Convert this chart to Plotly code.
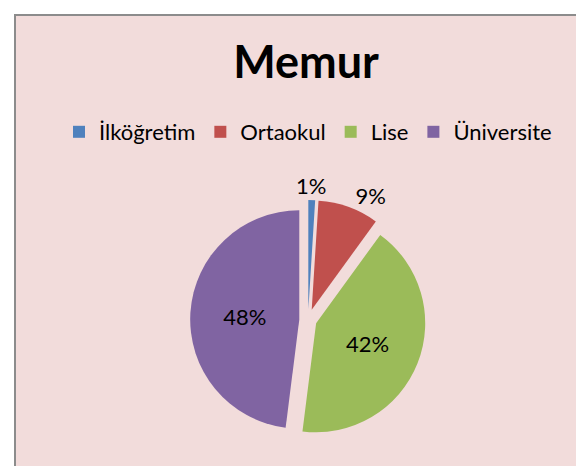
import plotly.graph_objects as go

categories = ["İlköğretim", "Ortaokul", "Lise", "Üniversite"]
values = [1, 9, 42, 48]
colors = ["#4F81BD", "#C0504D", "#9BBB59", "#8064A2"]
title_text = "Memur"

W, H = 584, 466
font_family = "Lato, 'Open Sans', sans-serif"

fig = go.Figure(
    go.Pie(
        labels=categories,
        values=values,
        sort=False,
        direction="clockwise",
        rotation=0,
        marker=dict(colors=colors, line=dict(width=0)),
        pull=[0.1, 0.1, 0.08, 0.08],
        texttemplate=["", "%{value}%", "%{value}%", "%{value}%"],
        textposition=["none", "outside", "inside", "inside"],
        textfont=dict(family=font_family, size=22, color="#000000"),
        insidetextorientation="horizontal",
        hoverinfo="label+percent",
        domain=dict(x=[180 / W, 420 / W], y=[1 - 432 / H, 1 - 192 / H]),
        showlegend=True,
    )
)

fig.update_layout(
    width=W,
    height=H,
    margin=dict(l=0, r=0, t=0, b=0),
    paper_bgcolor="#FFFFFF",
    plot_bgcolor="#F2DCDB",
    font=dict(family=font_family, color="#000000"),
    title=dict(
        text="<b>" + title_text + "</b>",
        x=298 / W,
        xanchor="center",
        y=1 - 54 / H,
        yanchor="middle",
        xref="paper",
        yref="paper",
        font=dict(family=font_family, size=45, color="#000000"),
    ),
    legend=dict(
        orientation="h",
        x=300 / W,
        xanchor="center",
        y=1 - 124 / H,
        yanchor="middle",
        font=dict(family=font_family, size=22, color="#000000"),
        bgcolor="rgba(0,0,0,0)",
        itemclick=False,
        traceorder="normal",
    ),
    annotations=[
        dict(
            text=f"{values[0]}%",
            xref="paper",
            yref="paper",
            x=303 / W,
            y=1 - 178 / H,
            xanchor="center",
            yanchor="middle",
            showarrow=False,
            font=dict(family=font_family, size=22, color="#000000"),
        )
    ],
    shapes=[
        dict(
            type="rect",
            xref="paper",
            yref="paper",
            x0=7 / W,
            x1=1.05,
            y0=-0.05,
            y1=1 - 7 / H,
            fillcolor="#F2DCDB",
            line=dict(color="#8C8C8C", width=2),
            layer="below",
        )
    ],
)

fig.write_html("out.html")
